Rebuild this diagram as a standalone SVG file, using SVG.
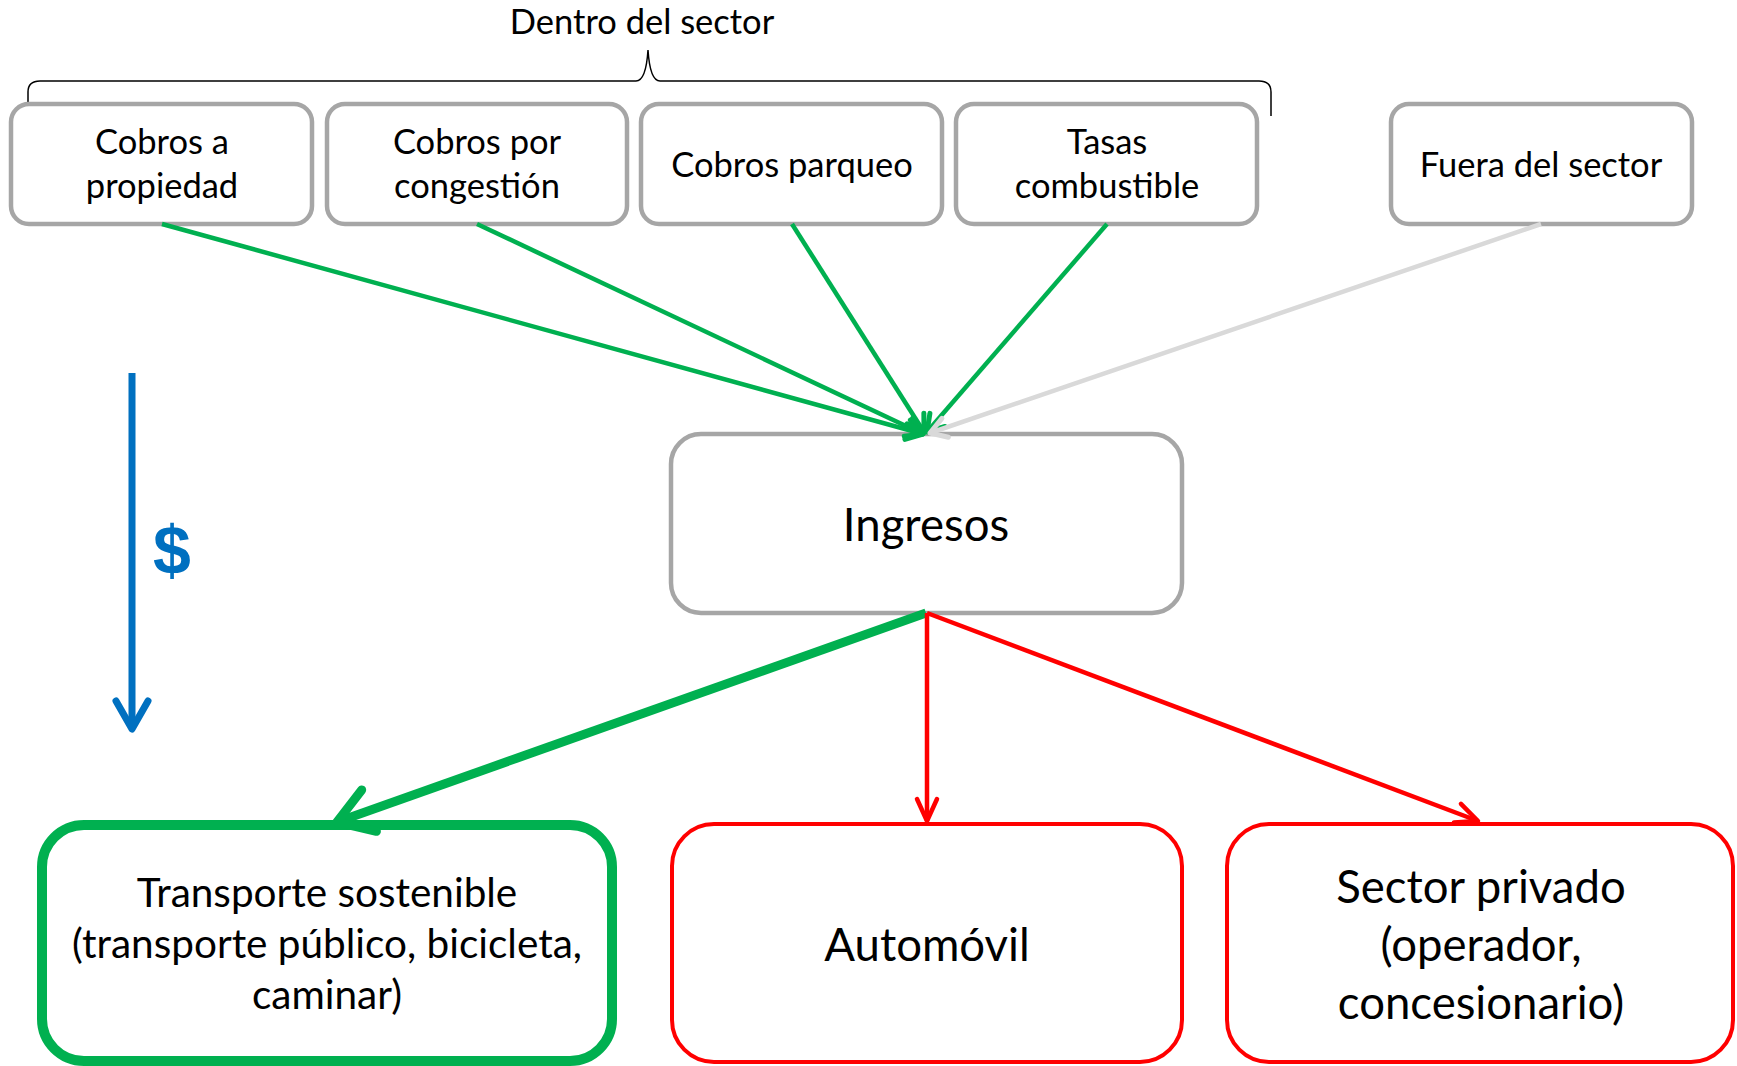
<svg xmlns="http://www.w3.org/2000/svg" width="1737" height="1066" viewBox="0 0 1737 1066">
<style>
.t{font-family:Lato,"Open Sans","Liberation Sans",sans-serif;fill:#000;text-anchor:middle}
.s{font-size:34.5px}
.l{font-size:45.5px}
.m{font-size:40.5px}
.gb{fill:#fff;stroke:#a6a6a6;stroke-width:4.5}
.rb{fill:#fff;stroke:#ff0000;stroke-width:4}
.grn{fill:#fff;stroke:#00b050;stroke-width:10}
</style>
<defs>
<marker id="ag" markerUnits="userSpaceOnUse" viewBox="-30 -20 40 40" refX="0" refY="0" markerWidth="40" markerHeight="40" orient="auto">
<path d="M-16,-10 L0,0 L-16,10" fill="none" stroke="#00b050" stroke-width="5" stroke-linecap="round" stroke-linejoin="round"/>
</marker>
<marker id="agr" markerUnits="userSpaceOnUse" viewBox="-30 -20 40 40" refX="0" refY="0" markerWidth="40" markerHeight="40" orient="auto">
<path d="M-16,-10 L0,0 L-16,10" fill="none" stroke="#d9d9d9" stroke-width="5" stroke-linecap="round" stroke-linejoin="round"/>
</marker>
<marker id="ar" markerUnits="userSpaceOnUse" viewBox="-30 -20 40 40" refX="0" refY="0" markerWidth="40" markerHeight="40" orient="auto">
<path d="M-22,-10 L0,0 L-22,10" fill="none" stroke="#ff0000" stroke-width="4.5" stroke-linecap="round" stroke-linejoin="round"/>
</marker>
<marker id="agb" markerUnits="userSpaceOnUse" viewBox="-50 -30 60 60" refX="0" refY="0" markerWidth="60" markerHeight="60" orient="auto">
<path d="M-34,-22 L0,0 L-34,22" fill="none" stroke="#00b050" stroke-width="9" stroke-linecap="round" stroke-linejoin="round"/>
</marker>
<marker id="ab" markerUnits="userSpaceOnUse" viewBox="-40 -25 50 50" refX="0" refY="0" markerWidth="50" markerHeight="50" orient="auto">
<path d="M-28,-16 L0,0 L-28,16" fill="none" stroke="#0070c0" stroke-width="7" stroke-linecap="round" stroke-linejoin="round"/>
</marker>
</defs>
<rect width="1737" height="1066" fill="#fff"/>

<g id="bracket">
<text class="t s" x="642" y="34">Dentro del sector</text>
<path d="M28,116 L28,92 Q28,81 40,81 L636,81 Q646,81 648,50 Q650,81 660,81 L1259,81 Q1271,81 1271,92 L1271,116" fill="none" stroke="#000" stroke-width="1.5"/>
</g>

<g id="n1"><rect class="gb" x="11" y="104" width="301" height="120" rx="18"/>
<text class="t s" x="162" y="154">Cobros a</text><text class="t s" x="162" y="198">propiedad</text></g>
<g id="n2"><rect class="gb" x="327" y="104" width="300" height="120" rx="18"/>
<text class="t s" x="477" y="154">Cobros por</text><text class="t s" x="477" y="198">congestión</text></g>
<g id="n3"><rect class="gb" x="641" y="104" width="301" height="120" rx="18"/>
<text class="t s" x="792" y="177">Cobros parqueo</text></g>
<g id="n4"><rect class="gb" x="956" y="104" width="301" height="120" rx="18"/>
<text class="t s" x="1107" y="154">Tasas</text><text class="t s" x="1107" y="198">combustible</text></g>
<g id="n5"><rect class="gb" x="1391" y="104" width="301" height="120" rx="18"/>
<text class="t s" x="1541" y="177">Fuera del sector</text></g>

<g id="ingresos"><rect class="gb" x="671" y="434" width="511" height="179" rx="30"/>
<text class="t l" x="926" y="541">Ingresos</text></g>

<g id="transporte"><rect class="grn" x="42" y="825" width="570" height="236" rx="42"/>
<text class="t m" x="327" y="907">Transporte sostenible</text>
<text class="t m" x="327" y="958">(transporte público, bicicleta,</text>
<text class="t m" x="327" y="1009">caminar)</text></g>

<g id="automovil"><rect class="rb" x="672" y="824" width="510" height="238" rx="42"/>
<text class="t l" x="927" y="961">Automóvil</text></g>

<g id="privado"><rect class="rb" x="1227" y="824" width="506" height="238" rx="42"/>
<text class="t l" x="1481" y="903">Sector privado</text>
<text class="t l" x="1481" y="961">(operador,</text>
<text class="t l" x="1481" y="1019">concesionario)</text></g>

<g id="dinero">
<text x="172" y="574" font-family="'Liberation Sans',Arial,sans-serif" font-weight="bold" font-size="68" fill="#0070c0" text-anchor="middle">$</text>
</g>

<g id="connectors" fill="none" stroke-linecap="butt">
<line x1="162" y1="224" x2="923" y2="434" stroke="#00b050" stroke-width="4.5" marker-end="url(#ag)"/>
<line x1="477" y1="224" x2="923" y2="434" stroke="#00b050" stroke-width="4.5" marker-end="url(#ag)"/>
<line x1="792" y1="224" x2="924" y2="432" stroke="#00b050" stroke-width="4.5" marker-end="url(#ag)"/>
<line x1="1107" y1="224" x2="927" y2="432" stroke="#00b050" stroke-width="4.5" marker-end="url(#ag)"/>
<line x1="1541" y1="224" x2="930" y2="433" stroke="#d9d9d9" stroke-width="4.5" marker-end="url(#agr)"/>
<line x1="926" y1="613" x2="337" y2="822" stroke="#00b050" stroke-width="9" marker-end="url(#agb)"/>
<line x1="927" y1="613" x2="927" y2="821" stroke="#ff0000" stroke-width="4.5" marker-end="url(#ar)"/>
<line x1="927" y1="613" x2="1478" y2="821" stroke="#ff0000" stroke-width="4.5" marker-end="url(#ar)"/>
<line x1="132" y1="373" x2="132" y2="729" stroke="#0070c0" stroke-width="7" marker-end="url(#ab)"/>
</g>
</svg>
